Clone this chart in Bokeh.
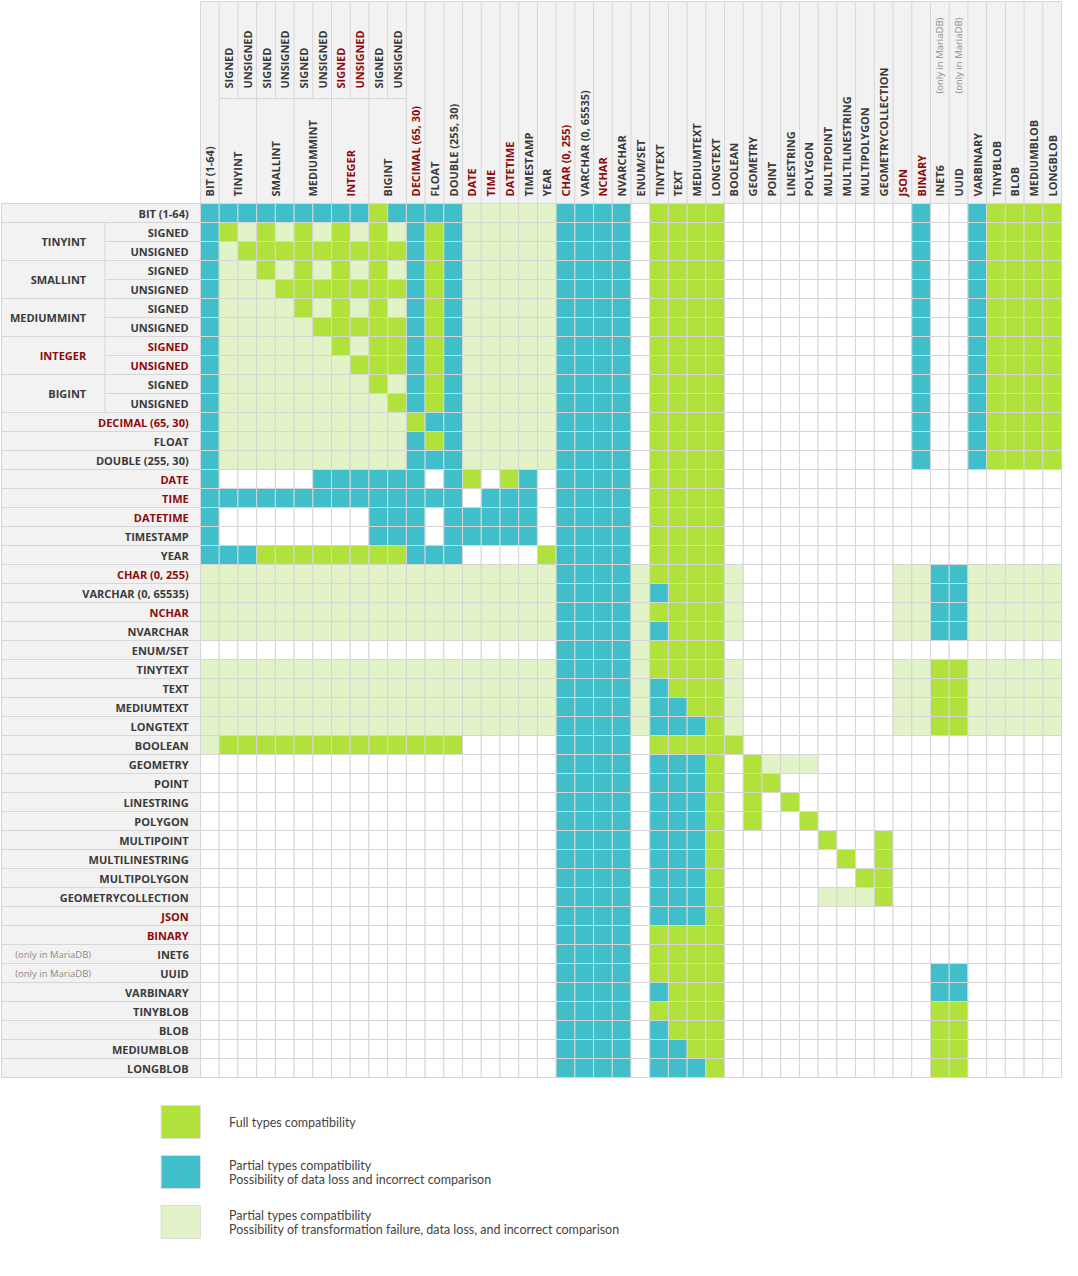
import math
from bokeh.plotting import figure
from bokeh.models import Range1d
from bokeh.embed import file_html
from bokeh.resources import INLINE
from bokeh.core.properties import value

# ---------------- data ----------------
type_names = [
    "BIT (1-64)", "TINYINT", "SMALLINT", "MEDIUMMINT", "INTEGER", "BIGINT",
    "DECIMAL (65, 30)", "FLOAT", "DOUBLE (255, 30)", "DATE", "TIME", "DATETIME",
    "TIMESTAMP", "YEAR", "CHAR (0, 255)", "VARCHAR (0, 65535)", "NCHAR", "NVARCHAR",
    "ENUM/SET", "TINYTEXT", "TEXT", "MEDIUMTEXT", "LONGTEXT", "BOOLEAN", "GEOMETRY",
    "POINT", "LINESTRING", "POLYGON", "MULTIPOINT", "MULTILINESTRING", "MULTIPOLYGON",
    "GEOMETRYCOLLECTION", "JSON", "BINARY", "INET6", "UUID", "VARBINARY", "TINYBLOB",
    "BLOB", "MEDIUMBLOB", "LONGBLOB",
]
signed_groups = ["TINYINT", "SMALLINT", "MEDIUMMINT", "INTEGER", "BIGINT"]
sign_labels = ["SIGNED", "UNSIGNED"]
red_names = ["INTEGER", "DECIMAL (65, 30)", "DATE", "TIME", "DATETIME",
             "CHAR (0, 255)", "NCHAR", "JSON", "BINARY"]
mariadb_only = ["INET6", "UUID"]
mariadb_note = "(only in MariaDB)"

# F = full, P = partial (data loss), L = partial (transformation failure), . = none
# blocks: [BIT][INT x10][DEC FLOAT DOUBLE][DATE..YEAR][CHAR..NVARCHAR][ENUM][TEXTs]
#         [BOOLEAN][GEOMETRY..GCOLL][JSON BINARY][INET6 UUID][VARBINARY..LONGBLOB]
matrix_rows = [
    "P PPPPPPPPFP PPP LLLLL PPPP . FFFF . ........ .P .. PFFFF",  # BIT
    "P FLFLFLFLFL PFP LLLLL PPPP . FFFF . ........ .P .. PFFFF",  # TINYINT S
    "P LFFFFFFFFF PFP LLLLL PPPP . FFFF . ........ .P .. PFFFF",  # TINYINT U
    "P LLFLFLFLFL PFP LLLLL PPPP . FFFF . ........ .P .. PFFFF",  # SMALLINT S
    "P LLLFFFFFFF PFP LLLLL PPPP . FFFF . ........ .P .. PFFFF",  # SMALLINT U
    "P LLLLFLFLFL PFP LLLLL PPPP . FFFF . ........ .P .. PFFFF",  # MEDIUMINT S
    "P LLLLLFFFFF PFP LLLLL PPPP . FFFF . ........ .P .. PFFFF",  # MEDIUMINT U
    "P LLLLLLFLFF PFP LLLLL PPPP . FFFF . ........ .P .. PFFFF",  # INTEGER S
    "P LLLLLLLFFF PFP LLLLL PPPP . FFFF . ........ .P .. PFFFF",  # INTEGER U
    "P LLLLLLLLFL PFP LLLLL PPPP . FFFF . ........ .P .. PFFFF",  # BIGINT S
    "P LLLLLLLLLF PFP LLLLL PPPP . FFFF . ........ .P .. PFFFF",  # BIGINT U
    "P LLLLLLLLLL FPP LLLLL PPPP . FFFF . ........ .P .. PFFFF",  # DECIMAL
    "P LLLLLLLLLL PFP LLLLL PPPP . FFFF . ........ .P .. PFFFF",  # FLOAT
    "P LLLLLLLLLL PPP LLLLL PPPP . FFFF . ........ .P .. PFFFF",  # DOUBLE
    "P .....PPPPP P.P F.FP. PPPP . FFFF . ........ .. .. .....",  # DATE
    "P PPPPPPPPPP PPP .PPP. PPPP . FFFF . ........ .. .. .....",  # TIME
    "P ........PP P.P PPPP. PPPP . FFFF . ........ .. .. .....",  # DATETIME
    "P ........PP P.P PPPP. PPPP . FFFF . ........ .. .. .....",  # TIMESTAMP
    "P PPFFFFFFFF PPP ....F PPPP . FFFF . ........ .. .. .....",  # YEAR
    "L LLLLLLLLLL LLL LLLLL PPPP L FFFF L ........ LL PP LLLLL",  # CHAR
    "L LLLLLLLLLL LLL LLLLL PPPP L PFFF L ........ LL PP LLLLL",  # VARCHAR
    "L LLLLLLLLLL LLL LLLLL PPPP L FFFF L ........ LL PP LLLLL",  # NCHAR
    "L LLLLLLLLLL LLL LLLLL PPPP L PFFF L ........ LL PP LLLLL",  # NVARCHAR
    ". .......... ... ..... PPPP L FFFF . ........ .. .. .....",  # ENUM/SET
    "L LLLLLLLLLL LLL LLLLL PPPP L FFFF L ........ LL FF LLLLL",  # TINYTEXT
    "L LLLLLLLLLL LLL LLLLL PPPP L PFFF L ........ LL FF LLLLL",  # TEXT
    "L LLLLLLLLLL LLL LLLLL PPPP L PPFF L ........ LL FF LLLLL",  # MEDIUMTEXT
    "L LLLLLLLLLL LLL LLLLL PPPP L PPPF L ........ LL FF LLLLL",  # LONGTEXT
    "L FFFFFFFFFF FFF ..... PPPP . FFFF F ........ .. .. .....",  # BOOLEAN
    ". .......... ... ..... PPPP . PPPF . FLLL.... .. .. .....",  # GEOMETRY
    ". .......... ... ..... PPPP . PPPF . FF...... .. .. .....",  # POINT
    ". .......... ... ..... PPPP . PPPF . F.F..... .. .. .....",  # LINESTRING
    ". .......... ... ..... PPPP . PPPF . F..F.... .. .. .....",  # POLYGON
    ". .......... ... ..... PPPP . PPPF . ....F..F .. .. .....",  # MULTIPOINT
    ". .......... ... ..... PPPP . PPPF . .....F.F .. .. .....",  # MULTILINESTRING
    ". .......... ... ..... PPPP . PPPF . ......FF .. .. .....",  # MULTIPOLYGON
    ". .......... ... ..... PPPP . PPPF . ....LLLF .. .. .....",  # GEOMETRYCOLLECTION
    ". .......... ... ..... PPPP . PPPF . ........ .. .. .....",  # JSON
    ". .......... ... ..... PPPP . FFFF . ........ .. .. .....",  # BINARY
    ". .......... ... ..... PPPP . FFFF . ........ .. .. .....",  # INET6
    ". .......... ... ..... PPPP . FFFF . ........ .. PP .....",  # UUID
    ". .......... ... ..... PPPP . PFFF . ........ .. PP .....",  # VARBINARY
    ". .......... ... ..... PPPP . FFFF . ........ .. FF .....",  # TINYBLOB
    ". .......... ... ..... PPPP . PFFF . ........ .. FF .....",  # BLOB
    ". .......... ... ..... PPPP . PPFF . ........ .. FF .....",  # MEDIUMBLOB
    ". .......... ... ..... PPPP . PPPF . ........ .. FF .....",  # LONGBLOB
]

legend_codes = ["F", "P", "L"]
legend_texts = [
    ["Full types compatibility"],
    ["Partial types compatibility", "Possibility of data loss and incorrect comparison"],
    ["Partial types compatibility",
     "Possibility of transformation failure, data loss, and incorrect comparison"],
]

# ---------------- styles ----------------
code_colors = {"F": "#b1e23b", "P": "#40bfca", "L": "#e2f4c7", ".": "#ffffff"}
GRID = "#d6d6d6"
PANEL = "#f2f2f2"
DARK = "#3a3a3a"
RED = "#8c0a0a"
NOTE = "#8a8a8a"
FONT = value("Open Sans")

G0X, G0Y, CELL = 203, 203, 19
PANEL_LEFT, HEADER_TOP = 1, 1
SPLIT_X, SPLIT_Y = 106, 98
ROW_LABEL_X, GROUP_LABEL_X = 191, 87
HEAD_BASE, SUB_BASE, NOTE_BASE = 196, 88, 93

# expand the type list into matrix slots
slots = []
for t in type_names:
    if t in signed_groups:
        for s in sign_labels:
            slots.append((t, s))
    else:
        slots.append((t, None))
N = len(slots)
cells = [r.replace(" ", "") for r in matrix_rows]

p = figure(width=1062, height=1260, x_range=Range1d(0, 1078), y_range=Range1d(1260, 0),
           output_backend="svg", toolbar_location=None, x_axis_type=None, y_axis_type=None,
           min_border=0, outline_line_color=None)
p.grid.visible = False

# panels
p.quad(left=[PANEL_LEFT, G0X], right=[G0X, G0X + N * CELL],
       top=[G0Y, HEADER_TOP], bottom=[G0Y + N * CELL, G0Y],
       fill_color=PANEL, line_color=GRID, line_width=1)

# cells
cl, cr, ct, cb, cc = [], [], [], [], []
for j, row in enumerate(cells):
    for i, c in enumerate(row):
        cl.append(G0X + i * CELL); cr.append(G0X + (i + 1) * CELL)
        ct.append(G0Y + j * CELL); cb.append(G0Y + (j + 1) * CELL)
        cc.append(code_colors[c])
p.quad(left=cl, right=cr, top=ct, bottom=cb, fill_color=cc, line_color=GRID, line_width=1)

# panel separator lines
x0, x1, y0, y1 = [], [], [], []
for k in range(1, N):
    same = slots[k][0] == slots[k - 1][0] and slots[k][1] is not None
    yy = G0Y + k * CELL
    x0.append(SPLIT_X if same else PANEL_LEFT); x1.append(G0X); y0.append(yy); y1.append(yy)
    xx = G0X + k * CELL
    x0.append(xx); x1.append(xx); y0.append(HEADER_TOP); y1.append(SPLIT_Y if same else G0Y)
for k, (g, s) in enumerate(slots):
    if s == sign_labels[0]:
        x0.append(SPLIT_X); x1.append(SPLIT_X)
        y0.append(G0Y + k * CELL); y1.append(G0Y + (k + 2) * CELL)
        x0.append(G0X + k * CELL); x1.append(G0X + (k + 2) * CELL)
        y0.append(SPLIT_Y); y1.append(SPLIT_Y)
p.segment(x0=x0, y0=y0, x1=x1, y1=y1, line_color=GRID, line_width=1)

# labels
rx, ry, rt, rc = [], [], [], []     # row labels (right aligned)
gx, gy, gt, gc = [], [], [], []     # row group labels
hx, hy, ht, hc = [], [], [], []     # header labels (rotated)
nx, ny, nt = [], [], []             # row notes
hnx, hny, hnt = [], [], []          # header notes
for k, (g, s) in enumerate(slots):
    col = RED if g in red_names else DARK
    yc = G0Y + (k + 0.5) * CELL
    xc = G0X + (k + 0.5) * CELL
    if s is None:
        rx.append(ROW_LABEL_X); ry.append(yc); rt.append(g); rc.append(col)
        hx.append(xc); hy.append(HEAD_BASE); ht.append(g); hc.append(col)
    else:
        rx.append(ROW_LABEL_X); ry.append(yc); rt.append(s); rc.append(col)
        hx.append(xc); hy.append(SUB_BASE); ht.append(s); hc.append(col)
        if s == sign_labels[0]:
            gx.append(GROUP_LABEL_X); gy.append(G0Y + (k + 1) * CELL); gt.append(g); gc.append(col)
            hx.append(G0X + (k + 1) * CELL); hy.append(HEAD_BASE); ht.append(g); hc.append(col)
    if g in mariadb_only:
        nx.append(15); ny.append(yc); nt.append(mariadb_note)
        hnx.append(xc); hny.append(NOTE_BASE); hnt.append(mariadb_note)

p.text(x=rx + gx, y=ry + gy, text=rt + gt, text_color=rc + gc, text_align="right",
       text_baseline="middle", text_font=FONT, text_font_size="11px", text_font_style="bold")
p.text(x=hx, y=hy, text=ht, text_color=hc, angle=math.pi / 2, text_align="left",
       text_baseline="middle", text_font=FONT, text_font_size="11px", text_font_style="bold")
p.text(x=nx, y=ny, text=nt, text_color=NOTE, text_align="left", text_baseline="middle",
       text_font=FONT, text_font_size="9.5px")
p.text(x=hnx, y=hny, text=hnt, text_color=NOTE, angle=math.pi / 2, text_align="left",
       text_baseline="middle", text_font=FONT, text_font_size="9.5px")

# legend
LEG_X0, LEG_X1, LEG_TX, LEG_Y, LEG_STEP, LEG_H, LINE_H = 163, 203, 232, 1121.5, 50, 33, 14
ll, lr, lt, lb, lc = [], [], [], [], []
tx, ty, tt = [], [], []
for k, (code, lines) in enumerate(zip(legend_codes, legend_texts)):
    yc = LEG_Y + k * LEG_STEP
    ll.append(LEG_X0); lr.append(LEG_X1); lt.append(yc - LEG_H / 2); lb.append(yc + LEG_H / 2)
    lc.append(code_colors[code])
    for m, line in enumerate(lines):
        tx.append(LEG_TX); ty.append(yc + (m - (len(lines) - 1) / 2) * LINE_H); tt.append(line)
p.quad(left=ll, right=lr, top=lt, bottom=lb, fill_color=lc, line_color="#dddddd", line_width=1)
p.text(x=tx, y=ty, text=tt, text_color="#444444", text_align="left", text_baseline="middle",
       text_font=value("Lato"), text_font_size="12.5px")

open("out.html", "w").write(file_html(p, INLINE))
